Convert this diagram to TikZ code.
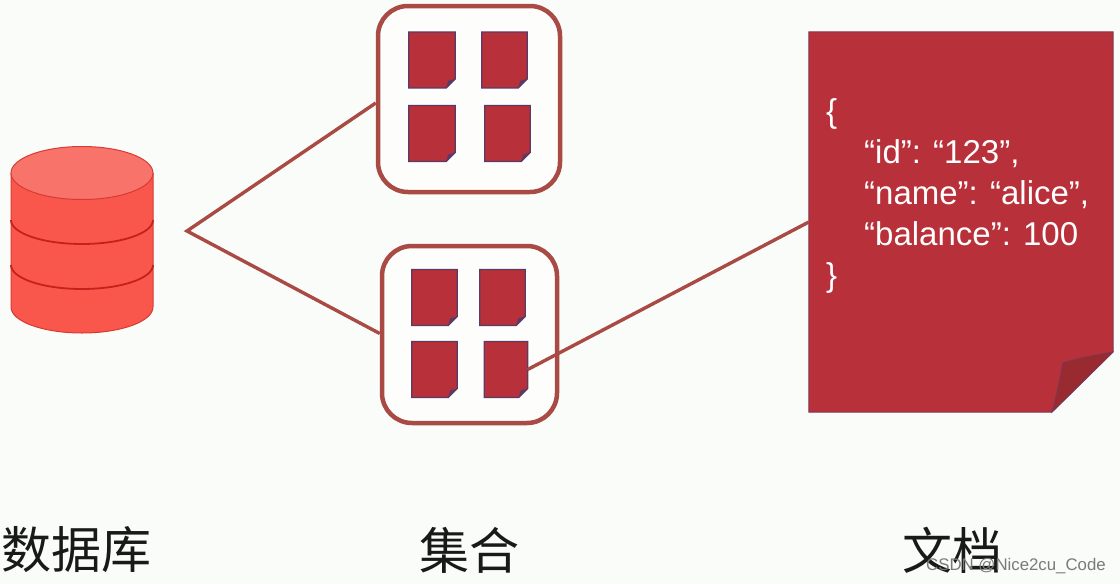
\documentclass[tikz,border=0pt]{standalone}
\usepackage{fontspec}
\setmainfont{Liberation Sans}
\newfontfamily\cjk{Noto Sans CJK SC}
\usetikzlibrary{calc}
\definecolor{pagebg}{HTML}{F9FCF8}
\definecolor{docred}{HTML}{B8303A}
\definecolor{foldred}{HTML}{982A30}
\definecolor{docedge}{HTML}{5A3A66}
\definecolor{linkred}{HTML}{A94A45}
\definecolor{cylside}{HTML}{F9574B}
\definecolor{cyltop}{HTML}{F8736A}
\definecolor{cylline}{HTML}{C8201C}
\definecolor{cylrim}{HTML}{D83A33}
\tikzset{
  x=1pt,y=-1pt,
  boxnode/.style={draw=linkred,line width=4.5pt,rounded corners=30pt,fill=white!60!pagebg,inner sep=0pt},
  smalldoc/.style={inner sep=0pt,minimum width=#1,minimum height=55.5pt},
  link/.style={draw=linkred,line width=3.4pt},
  caption/.style={font=\cjk\fontsize{50}{50}\selectfont,text=black!90,inner sep=0pt},
  code/.style={font=\fontsize{33}{41}\selectfont,text=white,align=left,inner sep=0pt,anchor=north west}
}
% icon: node name, centre x, centre y, width
\newcommand{\docicon}[4]{%
  \node[smalldoc=#4 pt] (#1) at (#2,#3) {};
  \fill[docred,draw=docedge,line width=1.3pt,line join=miter]
    (#1.north west) -- (#1.north east) -- ($(#1.south east)+(0,-9)$)
    -- ($(#1.south east)+(-9,0)$) -- (#1.south west) -- cycle;
  \fill[docedge] ($(#1.south east)+(0,-9)$) -- ($(#1.south east)+(-7,-7)$)
    -- ($(#1.south east)+(-9,0)$) -- cycle;
}
\begin{document}
\begin{tikzpicture}
\useasboundingbox[fill=pagebg] (0,0) rectangle (1120,584);

% database
\fill[cylside] (11,173) -- (11,307) arc[start angle=180,end angle=0,x radius=71,y radius=26] -- (153,173) -- cycle;
\draw[cylrim,line width=1pt] (11,173) -- (11,307) arc[start angle=180,end angle=0,x radius=71,y radius=26] -- (153,173);
\draw[cylline,line width=1.8pt] (11,220) arc[start angle=180,end angle=0,x radius=71,y radius=24];
\draw[cylline,line width=1.8pt] (11,265) arc[start angle=180,end angle=0,x radius=71,y radius=24];
\fill[cyltop,draw=cylrim,line width=1pt] (82,173) ellipse[x radius=71,y radius=26.5];

% collections
\node[boxnode,minimum width=182pt,minimum height=186pt] (box1) at (469,99) {};
\node[boxnode,minimum width=175pt,minimum height=177pt] (box2) at (469.5,334.5) {};
\docicon{d11}{432}{60}{46}
\docicon{d12}{504.5}{60}{45}
\docicon{d13}{432}{133.5}{46}
\docicon{d14}{507.5}{133.5}{45}
\docicon{d21}{434.5}{297.5}{45}
\docicon{d22}{502.5}{297.5}{45}
\docicon{d23}{434.5}{369.5}{45}
\docicon{d24}{506}{369.5}{43}

% document
\node[inner sep=0pt,minimum width=304pt,minimum height=380pt] (doc) at (961,222) {};
\fill[docred,draw=docedge!60!docred,line width=1pt]
  (doc.north west) -- (doc.north east) -- (1113,352) -- (1052,412) -- (doc.south west) -- cycle;
\fill[foldred,draw=docedge!70!docred,line width=.8pt]
  (1113,352) .. controls (1090,356) and (1075,359) .. (1063,363)
  .. controls (1060,378) and (1057,395) .. (1052,412) -- cycle;
\node[code] (codetext) at (826,98) {\{\\\hspace*{38pt}“id”: “123”,\\\hspace*{38pt}“name”: “alice”,\\\hspace*{38pt}“balance”: 100\\\}};

% connectors
\coordinate (hub) at (187,231);
\draw[link,line join=miter] ($(box1.west)+(0,4)$) -- (hub) -- ($(box2.west)+(0,-1)$);
\draw[link] (d24.east) -- (doc.west);

% captions
\node[caption] (cap1) at (76.5,550) {数据库};
\node[caption] (cap2) at (469,550) {集合};
\node[caption] (cap3) at (952,550) {文档};
\node[font=\fontsize{16.8}{18}\selectfont,text=black!52,inner sep=0pt] (wm) at (1016,566) {CSDN @Nice2cu\_Code};
\end{tikzpicture}
\end{document}
